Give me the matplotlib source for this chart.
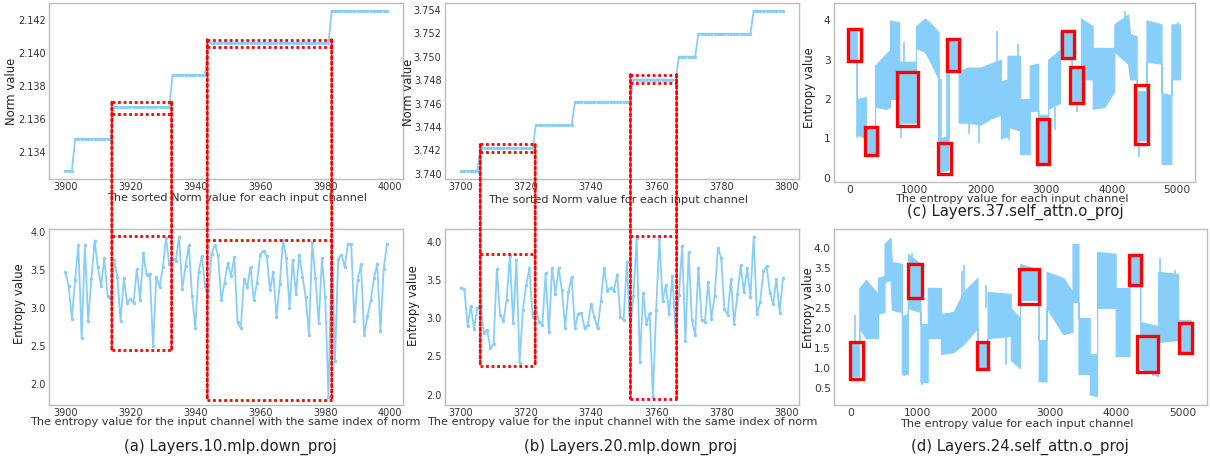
import numpy as np
import matplotlib
matplotlib.use("Agg")
import matplotlib.pyplot as plt
from matplotlib import font_manager
from matplotlib.patches import ConnectionPatch, Rectangle

# narrow font if we have one, the original text is squeezed horizontally
_names = {f.name for f in font_manager.fontManager.ttflist}
if "Liberation Sans Narrow" in _names:
    FONT, FS = "Liberation Sans Narrow", 1.0
else:
    FONT, FS = "DejaVu Sans", 0.74
plt.rcParams["font.family"] = [FONT, "DejaVu Sans"]

W, H = 1210, 459
BLUE = "#87cefa"
GRAY = "#bdbdbd"
TXT = "#333333"

# ---------------- (a) Layers.10.mlp.down_proj ----------------
a_start = 3900
a_norm_levels = [2.1328125, 2.134765625, 2.13671875, 2.138671875, 2.140625, 2.142578125]
a_norm_counts = [3, 12, 18, 11, 38, 18]
a_entropy = [3.47, 3.29, 2.86, 3.37, 3.82, 2.60, 3.82, 2.83, 3.38, 3.88,
             3.53, 3.29, 3.65, 3.16, 3.10, 3.63, 3.41, 2.83, 3.39, 3.07,
             3.11, 3.07, 3.51, 3.10, 3.72, 3.43, 3.45, 2.50, 3.41, 3.28,
             3.53, 3.92, 3.57, 3.64, 3.62, 3.93, 3.25, 3.55, 3.82, 3.16,
             2.74, 3.47, 3.68, 3.29, 3.14, 3.71, 3.83, 3.69, 3.10, 3.33,
             3.59, 3.42, 3.67, 2.81, 2.73, 3.38, 3.27, 3.54, 3.10, 3.33,
             3.70, 3.75, 3.68, 3.23, 3.47, 2.88, 3.31, 3.89, 3.66, 3.00,
             3.63, 3.18, 3.70, 3.41, 3.14, 2.65, 3.86, 3.39, 2.80, 3.65,
             3.14, 1.83, 3.83, 2.30, 3.64, 3.70, 3.54, 3.84, 3.84, 2.83,
             3.37, 3.57, 2.64, 2.89, 3.10, 3.39, 3.57, 2.70, 3.51, 3.84]
a_xticks = [3900, 3920, 3940, 3960, 3980, 4000]
a_norm_yticks = [2.134, 2.136, 2.138, 2.140, 2.142]
# x0, x1, norm band top/bottom, entropy band top/bottom
a_boxes = [(3914.3, 3932.7, 2.13702, 2.13627, 3.943, 2.452),
           (3943.7, 3982.0, 2.14083, 2.14036, 3.891, 1.791)]

# ---------------- (b) Layers.20.mlp.down_proj ----------------
b_start = 3700
b_norm_levels = [3.740234375, 3.7421875, 3.744140625, 3.74609375,
                 3.748046875, 3.75, 3.751953125, 3.75390625]
b_norm_counts = [6, 17, 12, 18, 14, 6, 17, 10]
b_entropy = [3.40, 3.38, 2.90, 3.16, 2.86, 3.13, 3.16, 2.80, 2.85, 2.61,
             2.66, 3.64, 3.04, 2.96, 3.24, 3.81, 2.94, 3.76, 2.42, 3.11,
             3.43, 3.65, 3.02, 3.13, 2.95, 2.91, 3.59, 2.82, 3.66, 3.32,
             3.65, 3.37, 2.87, 3.34, 3.54, 2.87, 3.06, 3.07, 2.87, 2.91,
             3.19, 3.01, 2.87, 3.22, 3.66, 3.36, 3.40, 3.36, 3.57, 3.01,
             2.98, 3.73, 2.83, 3.29, 4.05, 2.43, 3.33, 2.92, 3.07, 1.97,
             3.10, 4.03, 3.23, 3.43, 3.06, 3.55, 2.78, 3.30, 3.94, 2.70,
             3.86, 2.97, 2.78, 3.66, 2.98, 2.95, 3.47, 2.99, 3.29, 3.92,
             3.79, 3.12, 3.04, 3.51, 2.93, 3.31, 3.69, 3.34, 3.65, 3.28,
             4.06, 3.05, 3.21, 3.61, 3.68, 3.33, 3.19, 3.51, 3.07, 3.52]
b_xticks = [3700, 3720, 3740, 3760, 3780, 3800]
b_norm_yticks = [3.740, 3.742, 3.744, 3.746, 3.748, 3.750, 3.752, 3.754]
b_boxes = [(3705.9, 3722.8, 3.74250, 3.74187, 3.833, 2.377),
           (3752.1, 3766.3, 3.74848, 3.74776, 4.077, 1.949)]

entropy_yticks = [2.0, 2.5, 3.0, 3.5, 4.0]

# ---------------- (c) Layers.37.self_attn.o_proj ----------------
# lower / upper envelope of the dense per-channel entropy trace
# (a channel listed twice marks a jump)
c_ch = [0, 115, 115, 250, 250, 390, 390, 560, 620, 620, 760, 760, 1015, 1015,
        1150, 1250, 1360, 1360, 1510, 1510, 1665, 1665, 1800, 2000, 2150, 2310,
        2310, 2410, 2410, 2600, 2600, 2750, 2750, 2880, 2880, 3030, 3030, 3210,
        3210, 3390, 3390, 3530, 3530, 3710, 3710, 3890, 4040, 4040, 4250, 4280,
        4380, 4380, 4530, 4530, 4760, 4760, 4910, 4910, 5040]
c_lo = [2.95, 2.95, 1.10, 1.00, 0.60, 0.60, 1.80, 1.75, 1.80, 2.00, 2.00, 1.40,
        1.40, 3.30, 3.20, 2.90, 2.50, 0.15, 0.20, 2.75, 2.75, 1.40, 1.40, 1.35,
        1.50, 1.60, 1.00, 1.05, 1.30, 1.20, 0.60, 0.60, 1.70, 1.70, 0.40, 0.40,
        1.75, 1.90, 3.10, 3.10, 1.90, 1.90, 2.50, 2.50, 1.75, 1.80, 2.20, 3.20,
        2.90, 2.50, 2.50, 0.95, 0.95, 2.95, 2.90, 0.35, 0.35, 2.50, 2.50]
c_hi = [3.75, 3.75, 2.00, 2.05, 1.30, 1.30, 2.85, 3.15, 3.25, 4.00, 3.95, 2.95,
        2.95, 3.85, 4.05, 3.90, 3.70, 1.00, 1.05, 3.50, 3.45, 2.70, 2.80, 2.80,
        2.90, 3.00, 2.45, 2.50, 3.10, 3.10, 2.00, 2.00, 2.85, 2.90, 1.60, 1.60,
        3.00, 3.25, 3.70, 3.70, 2.80, 2.75, 4.05, 3.85, 3.30, 3.30, 3.30, 3.90,
        4.15, 3.65, 3.60, 2.20, 2.20, 4.00, 3.90, 2.15, 2.10, 3.90, 3.90]
# single channels sticking out of the band: channel, low, high
c_spikes = [(120, 1.00, 3.00), (780, 1.00, 2.00), (834, 2.90, 3.45),
            (1370, 0.87, 3.00), (1393, 0.90, 2.50), (1490, 1.00, 2.75),
            (1520, 1.00, 2.80), (1824, 1.12, 1.50), (1980, 0.87, 1.50),
            (2250, 2.90, 3.74), (2434, 0.95, 1.40), (2576, 2.90, 3.40),
            (3135, 1.20, 1.80), (3465, 1.67, 1.95), (4201, 3.90, 4.25),
            (4420, 0.53, 1.00), (5014, 3.50, 3.95)]
c_boxes = [(-15, 173, 2.98, 3.79), (239, 417, 0.57, 1.29), (721, 1052, 1.32, 2.69),
           (1357, 1545, 0.09, 0.89), (1484, 1677, 2.71, 3.53), (2855, 3049, 0.36, 1.50),
           (3237, 3425, 3.05, 3.73), (3364, 3557, 1.89, 2.81), (4354, 4558, 0.85, 2.35)]
c_xticks = [0, 1000, 2000, 3000, 4000, 5000]
c_yticks = [0, 1, 2, 3, 4]

# ---------------- (d) Layers.24.self_attn.o_proj ----------------
d_ch = [0, 130, 130, 230, 410, 410, 510, 510, 600, 620, 770, 770, 860, 860,
        1050, 1050, 1160, 1160, 1360, 1360, 1550, 1700, 1910, 1910, 2060, 2060,
        2410, 2410, 2550, 2550, 2830, 2830, 2950, 2950, 3200, 3340, 3340, 3430,
        3430, 3600, 3600, 3710, 3710, 3990, 3990, 4200, 4200, 4360, 4360, 4630,
        4630, 4930, 4930, 5120]
d_lo = [0.80, 0.80, 2.00, 1.75, 1.75, 2.35, 2.40, 3.15, 3.20, 2.45, 2.40, 0.85,
        0.85, 2.50, 2.40, 0.65, 0.65, 1.75, 1.75, 1.35, 1.40, 1.60, 2.00, 1.00,
        1.00, 1.75, 1.80, 1.20, 1.00, 2.70, 2.70, 0.67, 0.67, 2.50, 1.85, 1.90,
        2.65, 2.65, 0.85, 0.85, 0.34, 0.30, 2.50, 2.50, 1.30, 1.30, 3.10, 3.10,
        1.00, 0.80, 1.65, 1.70, 1.40, 1.40]
d_hi = [1.65, 1.65, 3.00, 3.20, 2.85, 3.25, 3.30, 4.10, 4.25, 3.65, 3.60, 2.30,
        2.35, 3.85, 3.60, 2.10, 2.10, 3.00, 3.00, 2.35, 2.40, 2.90, 3.25, 1.65,
        1.65, 2.90, 2.85, 2.50, 2.25, 3.60, 3.45, 1.70, 1.70, 3.40, 3.25, 2.90,
        4.10, 4.10, 2.25, 2.25, 1.35, 1.35, 3.90, 3.85, 3.00, 3.00, 3.85, 3.85,
        2.15, 2.05, 3.40, 3.35, 2.20, 2.20]
d_spikes = [(60, 1.50, 2.33), (803, 0.80, 1.20), (928, 3.30, 3.87),
            (1080, 0.59, 1.50), (1681, 2.50, 3.41), (1710, 2.50, 3.58),
            (1932, 0.96, 1.20), (2033, 2.50, 3.08), (2334, 1.09, 1.80),
            (4557, 0.80, 1.00), (4660, 3.00, 3.75), (4884, 3.00, 3.45)]
d_boxes = [(-10, 181, 0.72, 1.66), (868, 1069, 2.76, 3.59), (1898, 2073, 0.97, 1.64),
           (2535, 2841, 2.61, 3.48), (4197, 4367, 3.07, 3.82), (4317, 4633, 0.91, 1.80),
           (4950, 5135, 1.37, 2.12)]
d_yticks = [0.5, 1.0, 1.5, 2.0, 2.5, 3.0, 3.5, 4.0]


def px_axes(fig, l, t, r, b):
    return fig.add_axes([l / W, 1 - b / H, (r - l) / W, (b - t) / H])


def style(ax, size):
    for s in ax.spines.values():
        s.set_color(GRAY)
        s.set_linewidth(1.0)
    ax.tick_params(length=0, pad=2.5, labelsize=size * FS, colors=TXT)


def put_labels(ax, xlabel, xpos, ylabel, ypos):
    box = ax.get_position()

    def to_axes(px, py):
        return ((px / W - box.x0) / box.width, ((1 - py / H) - box.y0) / box.height)

    ax.set_xlabel(xlabel, fontsize=11 * FS, color=TXT)
    ax.xaxis.set_label_coords(*to_axes(*xpos))
    ax.xaxis.label.set_va("center")
    ax.set_ylabel(ylabel, fontsize=11.3 * FS, color="#222222")
    ax.yaxis.set_label_coords(*to_axes(*ypos))
    ax.yaxis.label.set_va("center")


def freeze(ax):
    ax.set_xlim(ax.get_xlim())
    ax.set_ylim(ax.get_ylim())


def pair_panel(fig, left, right, start, levels, counts, entropy,
               xticks, norm_yticks, boxes, xl_top, yl_top, xl_bot, yl_bot):
    x_norm = np.arange(start, start + sum(counts))
    norm = np.repeat(levels, counts)
    x_ent = np.arange(start, start + len(entropy))

    ax1 = px_axes(fig, left, 3, right, 179)
    ax1.plot(x_norm, norm, color=BLUE, lw=1.3, marker="o", ms=1.5)
    style(ax1, 9.5)
    ax1.set_xticks(xticks)
    ax1.set_yticks(norm_yticks)
    ax1.set_yticklabels([f"{v:.3f}" for v in norm_yticks])
    freeze(ax1)
    put_labels(ax1, "The sorted Norm value for each input channel", xl_top,
               "Norm value", yl_top)

    ax2 = px_axes(fig, left, 229, right, 405)
    ax2.plot(x_ent, entropy, color=BLUE, lw=1.3, marker="o", ms=1.5)
    style(ax2, 9.5)
    ax2.set_xticks(xticks)
    ax2.set_yticks(entropy_yticks)
    ax2.set_yticklabels([f"{v:.1f}" for v in entropy_yticks])
    freeze(ax2)
    put_labels(ax2, "The entropy value for the input channel with the same index of norm",
               xl_bot, "Entropy value", yl_bot)

    # red dotted groups spanning both plots
    kw = dict(color="red", ls=(0, (1, 1)), lw=2, zorder=5)
    for x0, x1, t_hi, t_lo, e_hi, e_lo in boxes:
        ax1.plot([x0, x1], [t_hi, t_hi], clip_on=False, **kw)
        ax1.plot([x0, x1], [t_lo, t_lo], clip_on=False, **kw)
        ax2.plot([x0, x1], [e_hi, e_hi], clip_on=False, **kw)
        ax2.plot([x0, x1], [e_lo, e_lo], clip_on=False, **kw)
        for x in (x0, x1):
            con = ConnectionPatch(xyA=(x, t_hi), coordsA=ax1.transData,
                                  xyB=(x, e_lo), coordsB=ax2.transData, **kw)
            fig.add_artist(con)
    return ax1, ax2


def dense_panel(fig, rect, ch, lo, hi, spikes, boxes, xlim, ylim,
                yticks, yfmt, xl, yl):
    ax = px_axes(fig, *rect)
    ax.fill_between(ch, lo, hi, color=BLUE, lw=0.8, edgecolor=BLUE)
    ax.vlines([s[0] for s in spikes], [s[1] for s in spikes],
              [s[2] for s in spikes], color=BLUE, lw=1.2)
    for x0, x1, y0, y1 in boxes:
        ax.add_patch(Rectangle((x0, y0), x1 - x0, y1 - y0, fill=False,
                               ec="red", lw=2.4, zorder=5))
    ax.set_xlim(*xlim)
    ax.set_ylim(*ylim)
    style(ax, 10.3)
    ax.set_xticks(c_xticks)
    ax.set_yticks(yticks)
    ax.set_yticklabels([yfmt.format(v) for v in yticks])
    put_labels(ax, "The entropy value for each input channel", xl, "Entropy value", yl)
    return ax


fig = plt.figure(figsize=(W / 100, H / 100), dpi=100)

pair_panel(fig, 49.3, 403, a_start, a_norm_levels, a_norm_counts, a_entropy,
           a_xticks, a_norm_yticks, a_boxes,
           (237, 198), (11.7, 91), (225, 421.7), (20, 304))
pair_panel(fig, 445, 799, b_start, b_norm_levels, b_norm_counts, b_entropy,
           b_xticks, b_norm_yticks, b_boxes,
           (618.5, 200), (408.5, 92.5), (622, 421.7), (413, 305.8))

dense_panel(fig, (834, 2.7, 1195, 182), c_ch, c_lo, c_hi, c_spikes, c_boxes,
            (-235, 5270), (-0.11, 4.45), c_yticks, "{:d}",
            (1011.7, 199), (809.3, 87.5))
dense_panel(fig, (834.3, 229, 1207, 405), d_ch, d_lo, d_hi, d_spikes, d_boxes,
            (-247, 5366), (0.08, 4.47), d_yticks, "{:.1f}",
            (1016.7, 424), (808.3, 308))

captions = [("(a) Layers.10.mlp.down_proj", 230, 446.7),
            ("(b) Layers.20.mlp.down_proj", 630, 446.7),
            ("(c) Layers.37.self_attn.o_proj", 1015.5, 212.3),
            ("(d) Layers.24.self_attn.o_proj", 1019.5, 446.7)]
for text, x, y in captions:
    fig.text(x / W, 1 - y / H, text, ha="center", va="center",
             fontsize=14.5 * FS, color="#222222")

fig.savefig("out.png", dpi=100)
